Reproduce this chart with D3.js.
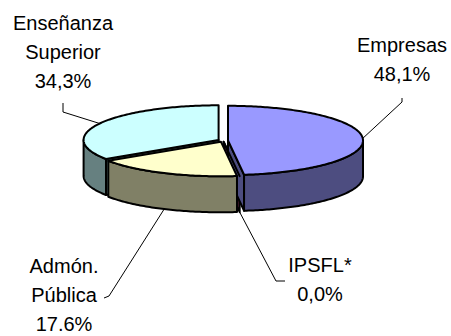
<!DOCTYPE html>
<html>
<head>
<meta charset="utf-8">
<script src="https://cdn.jsdelivr.net/npm/d3@7"></script>
<style>
  html, body { margin: 0; padding: 0; background: #fff; overflow: hidden; }
  text { font-family: "Liberation Sans", Arial, sans-serif; font-size: 20px; fill: #000; }
</style>
</head>
<body>
<svg id="chart" width="451" height="336"></svg>
<script>
// Shares of R&D spending by sector (percent)
const categories  = ["Empresas", "IPSFL*", "Admón. Pública", "Enseñanza Superior"];
const shares      = [48.1, 0.0, 17.6, 34.3];
const valueLabels = ["48,1%", "0,0%", "17.6%", "34,3%"];
const nameLines   = [["Empresas"], ["IPSFL*"], ["Admón.", "Pública"], ["Enseñanza", "Superior"]];
const topColors   = ["#9999FF", "#993366", "#FFFFCC", "#CCFFFF"];
const sideColors  = ["#4D4D80", "#4D1A33", "#808066", "#668080"];

// Layout of the tilted pie and its labels
const geo = { cx: 223, cy: 140.5, rx: 135, ry: 34.6, depth: 36, explode: 5 };
const labelLayout = [
  { x: 402, y: 52,  leader: [[402, 98], [402, 102]] },
  { x: 320, y: 272, leader: [[285, 281], [276, 281]] },
  { x: 64,  y: 273, leader: [[104, 298], [109, 296]] },
  { x: 63,  y: 30,  leader: [[63, 103], [63, 112]] }
];
const lineGap = 29;

const svg = d3.select("#chart");
const pie = d3.pie().sort(null).value(d => d);
const arcs = pie(shares);
const path = d3.line();
const deg = Math.PI / 180;

// Slice centre after pulling it outwards along its mid angle
function centreOf(a) {
  return [geo.cx + geo.explode * Math.sin(a),
          geo.cy - geo.explode * Math.cos(a) * geo.ry / geo.rx];
}
function rim(c, a, z) {
  return [c[0] + geo.rx * Math.sin(a), c[1] - geo.ry * Math.cos(a) + z];
}
function arcPts(c, a0, a1, z) {
  const n = Math.max(2, Math.ceil(Math.abs(a1 - a0) / deg) + 1);
  return d3.range(n).map(i => rim(c, a0 + (a1 - a0) * i / (n - 1), z));
}

const slices = arcs.map((d, i) => {
  const mid = (d.startAngle + d.endAngle) / 2;
  return { i, d, mid, c: centreOf(mid) };
});

const faces = svg.append("g")
  .attr("stroke", "#000")
  .attr("stroke-width", 2)
  .attr("stroke-linejoin", "round");

// Radial cut faces that turn towards the viewer (back ones first)
const cuts = [];
slices.slice().reverse().forEach(s => {
  const { d, c, i } = s;
  if (Math.sin(d.startAngle) < -1e-6) cuts.push({ i, c, a: d.startAngle });
  if (Math.sin(d.endAngle) > 1e-6) cuts.push({ i, c, a: d.endAngle });
});
cuts.forEach(f => {
  const p0 = [f.c[0], f.c[1]], p1 = rim(f.c, f.a, 0);
  const pts = [p0, p1, [p1[0], p1[1] + geo.depth], [p0[0], p0[1] + geo.depth]];
  faces.append("path")
    .attr("d", path(pts) + "Z")
    .attr("fill", sideColors[f.i]);
});

// Outer walls on the front half of the pie
slices.slice().reverse().forEach(s => {
  const a0 = Math.max(s.d.startAngle, Math.PI / 2);
  const a1 = Math.min(s.d.endAngle, 3 * Math.PI / 2);
  if (a1 - a0 <= 1e-6) return;
  const top = arcPts(s.c, a0, a1, 0);
  const bottom = arcPts(s.c, a1, a0, geo.depth);
  faces.append("path")
    .attr("d", path(top.concat(bottom)) + "Z")
    .attr("fill", sideColors[s.i]);
});

// Top faces
[3, 2, 0, 1].forEach(k => {
  const s = slices[k];
  const pts = [s.c].concat(arcPts(s.c, s.d.startAngle, s.d.endAngle, 0));
  faces.append("path")
    .attr("d", path(pts) + "Z")
    .attr("fill", topColors[s.i]);
});

// Labels with leader lines
const labels = svg.append("g");
slices.forEach(s => {
  const L = labelLayout[s.i];
  const front = Math.cos(s.mid) < 0;
  const end = rim(s.c, s.mid, front ? geo.depth : 0);
  labels.append("path")
    .attr("d", path(L.leader.concat([end])))
    .attr("fill", "none")
    .attr("stroke", "#000")
    .attr("stroke-width", 1);
  const lines = nameLines[s.i].concat([valueLabels[s.i]]);
  const t = labels.append("text").attr("text-anchor", "middle");
  lines.forEach((ln, j) => {
    t.append("tspan").attr("x", L.x).attr("y", L.y + j * lineGap).text(ln);
  });
});
</script>
</body>
</html>
